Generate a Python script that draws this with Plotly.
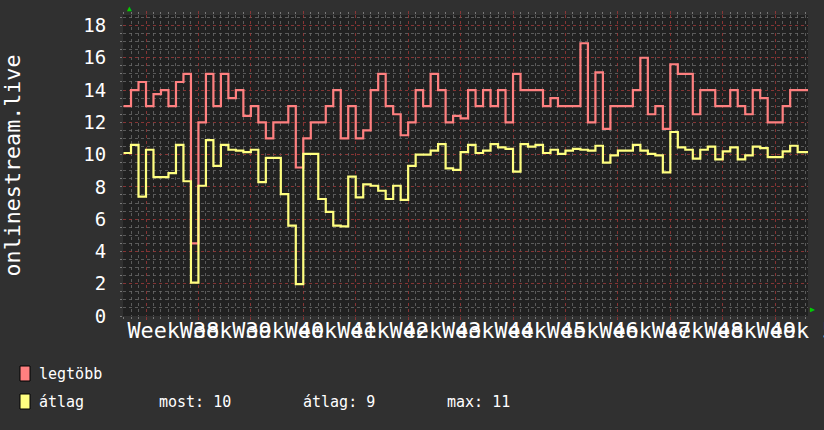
import plotly.graph_objects as go
import pandas as pd

# ---- data (daily samples, first sample 2023-09-15) ----
first_day = "2023-09-15"
week_start = "2023-09-18"
week_labels = ["Week 38", "Week 39", "Week 40", "Week 41", "Week 42", "Week 43", "Week 44",
               "Week 45", "Week 46", "Week 47", "Week 48", "Week 49", "Week 50"]

legtobb = [
    13, 14, 14.5, 13, 13.75, 14, 13, 14.5, 15, 4.5,
    12, 15, 13, 15, 13.5, 14, 12.4, 13, 12, 11,
    12, 12, 13, 9.2, 11, 12, 12, 13, 14, 11,
    13, 11, 11.5, 14, 15, 13, 12.5, 11.2, 12, 14,
    13, 15, 14, 12, 12.4, 12.25, 14, 13, 14, 13,
    14, 12, 15, 14, 14, 14, 13, 13.5, 13, 13,
    13, 16.9, 12, 15.1, 11.6, 13, 13, 13, 14, 16,
    12.5, 13, 11.6, 15.6, 15, 15, 12.5, 14, 14, 13,
    13, 14, 13, 12.5, 14, 13.5, 12, 12, 13, 14,
    14, 14,
]
atlag = [
    10.1, 10.6, 7.4, 10.3, 8.6, 8.6, 8.85, 10.6, 8.35, 2.07,
    8.07, 10.9, 9.3, 10.6, 10.3, 10.25, 10.15, 10.3, 8.3, 9.8,
    9.8, 7.55, 5.6, 1.97, 10.05, 10.05, 7.25, 6.45, 5.6, 5.55,
    8.63, 7.35, 8.15, 8.07, 7.76, 7.25, 8.07, 7.2, 9.3, 10.0,
    10.0, 10.25, 10.65, 9.15, 9.05, 10.15, 10.6, 10.1, 10.25, 10.65,
    10.45, 10.35, 8.95, 10.65, 10.5, 10.6, 10.1, 10.3, 10.05, 10.25,
    10.35, 10.3, 10.25, 10.55, 9.5, 9.95, 10.25, 10.25, 10.6, 10.25,
    10.05, 9.95, 8.9, 11.4, 10.45, 10.3, 9.75, 10.3, 10.5, 9.7,
    10.2, 10.45, 9.7, 9.95, 10.5, 10.4, 9.85, 9.85, 10.2, 10.55,
    10.15, 10.15,
]
series_names = ["legtöbb", "átlag"]
series_colors = ["#FF8080", "#FFFF80"]
stat_labels = ["most", "átlag", "max"]
axis_title = "onlinestream.live"

day = pd.Timedelta(days=1)
dates = list(pd.date_range(first_day, periods=len(legtobb), freq="D"))
x_ext = dates + [dates[-1] + day]

ws = pd.Timestamp(week_start)
x0 = ws - pd.Timedelta(days=3.07)
x1 = ws + pd.Timedelta(days=88.38)
label_pos = [ws + pd.Timedelta(days=3.65 + 7 * k) for k in range(len(week_labels))]

fig = go.Figure()
fig.add_trace(go.Scatter(x=x_ext, y=atlag + [atlag[-1]], mode="lines", xaxis="x2",
                         line=dict(shape="hv", color=series_colors[1], width=2.2),
                         name=series_names[1], hoverinfo="skip"))
fig.add_trace(go.Scatter(x=x_ext, y=legtobb + [legtobb[-1]], mode="lines",
                         line=dict(shape="hv", color=series_colors[0], width=2.2),
                         name=series_names[0], hoverinfo="skip"))

major_grid = "rgba(150,55,55,0.85)"
minor_grid = "rgba(110,110,110,0.75)"

fig.update_layout(
    width=824, height=430,
    margin=dict(l=123, r=16, t=15, b=114),
    paper_bgcolor="#303030", plot_bgcolor="#212121",
    showlegend=False,
    font=dict(family="DejaVu Sans Mono", color="white"),
    xaxis=dict(
        type="date", range=[x0, x1], tick0=week_start, dtick=7 * 86400000,
        showticklabels=False,
        showgrid=True, gridcolor=major_grid, griddash="dot", gridwidth=1,
        ticks="outside", ticklen=3, tickcolor=major_grid, mirror="ticks",
        minor=dict(dtick=86400000, tick0=week_start, showgrid=True,
                   gridcolor=minor_grid, griddash="dot",
                   ticks="outside", ticklen=2, tickcolor="#777"),
        zeroline=False, showline=False, automargin=False,
    ),
    xaxis2=dict(
        type="date", range=[x0, x1], overlaying="x", anchor="y", side="bottom",
        tickmode="array", tickvals=label_pos, ticktext=week_labels,
        tickangle=0, tickfont=dict(size=21.8, color="white"),
        ticklabelstandoff=-1, ticklabeloverflow="allow",
        ticks="", showgrid=False, zeroline=False, showline=False, automargin=False,
    ),
)
fig.update_yaxes(
    range=[0, 18.65], tick0=0, dtick=2,
    tickfont=dict(size=19, color="white"),
    showgrid=True, gridcolor=major_grid, griddash="dot", gridwidth=1,
    ticks="outside", ticklen=2, tickcolor="#777", ticklabelstandoff=10,
    minor=dict(dtick=0.5, showgrid=True, gridcolor=minor_grid, griddash="dot",
               ticks="outside", ticklen=2, tickcolor="#777"),
    zeroline=False, showline=False, automargin=False,
    title=dict(text=axis_title, font=dict(size=21.7, color="white"), standoff=62),
)

# green arrows at the axis ends
fig.add_annotation(xref="paper", yref="paper", x=0.003, y=1.0, yanchor="bottom",
                   text="▲", showarrow=False, font=dict(size=8, color="#00CC00"))
fig.add_annotation(xref="paper", yref="paper", x=1.0, y=0.0, xanchor="left",
                   text="▶", showarrow=False, font=dict(size=8, color="#00CC00"))

# legend drawn below the chart
def px_x(p):
    return (p - 123) / 685.0

def px_y(p):
    return (316 - p) / 301.0

for i, (name, col) in enumerate(zip(series_names, series_colors)):
    top = 366 + 28 * i
    fig.add_shape(type="rect", xref="paper", yref="paper",
                  x0=px_x(20), x1=px_x(30), y0=px_y(top), y1=px_y(top + 15),
                  fillcolor=col, line=dict(color="black", width=1))
    fig.add_annotation(xref="paper", yref="paper", x=px_x(37), y=px_y(top + 8),
                       xanchor="left", yanchor="middle", text=name, showarrow=False,
                       font=dict(size=15, color="white"))

stats = [atlag[-1], sum(atlag) / len(atlag), max(atlag)]
for lbl, v, xp in zip(stat_labels, stats, [157, 301, 445]):
    fig.add_annotation(xref="paper", yref="paper", x=px_x(xp), y=px_y(402),
                       xanchor="left", yanchor="middle", text=f"{lbl}: {v:.0f}",
                       showarrow=False, font=dict(size=15, color="white"))

fig.write_html(
    "out.html",
    config={"displayModeBar": False},
    post_script="document.body.style.margin='0';document.body.style.background='#303030';",
)
